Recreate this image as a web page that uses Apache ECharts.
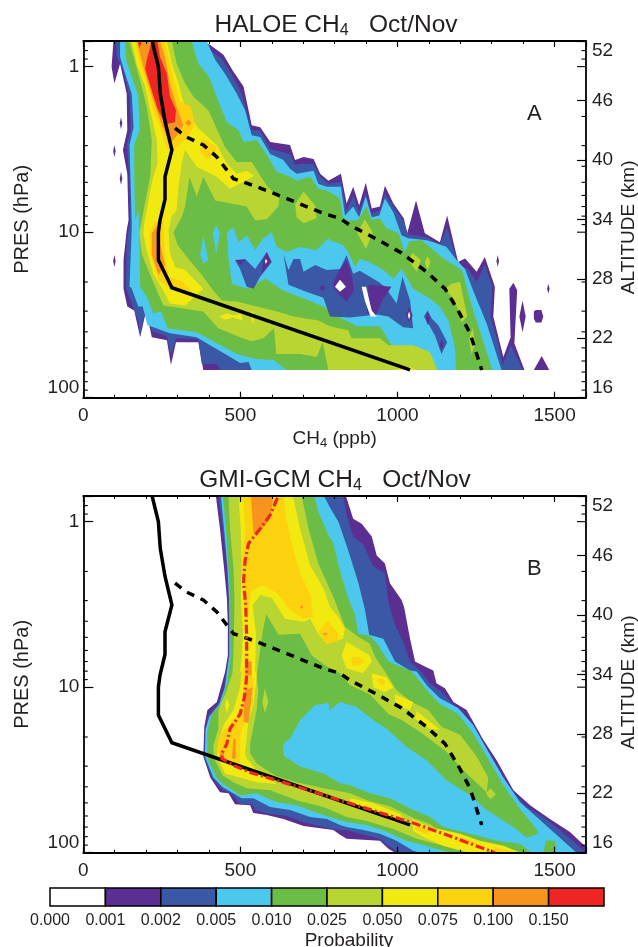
<!DOCTYPE html>
<html>
<head>
<meta charset="utf-8">
<style>html,body{margin:0;padding:0;background:#fff}#main{width:638px;height:947px}</style>
<script src="https://cdn.jsdelivr.net/npm/echarts@6/dist/echarts.min.js"></script>
</head>
<body>
<div id="main"></div>
<script>
// probability bands, low to high
const probLevels = ['0.000','0.001','0.002','0.005','0.010','0.025','0.050','0.075','0.100','0.150'];
const bandColors = ['#ffffff','#5b2e91','#3b58a7','#4cc7ee','#6cbd45','#b9d532','#f1e90f','#fcd20f','#f7941e','#ee2524'];

const xLabels = [0,500,1000,1500];
const pressLabels = [1,10,100];
const pressMinor = [0.8,0.9,2,3,4,5,6,7,8,9,20,30,40,50,60,70,80,90];
const altTicks = [16,22,28,34,40,46,52];

// contour outlines, [CH4 ppb, altitude km]
const haloe1 = [[96,52],[90,49.4],[99,47.7],[117,49.7],[138,46.7],[140,43],[126,41],[140,38.6],[144,33.9],[138,32.9],[128,29.9],[128,27],[140,25.2],[162,24.8],[181,22.1],[200,24.8],[218,22.1],[266,21.8],[279,19.3],[295,21.6],[366,21.6],[382,18.8],[1404,18.8],[1372,21.5],[1381,26.85],[1369,27.6],[1356,27],[1360,22.1],[1337,20.1],[1326,21.5],[1305,24.2],[1310,27.2],[1278,30.2],[1252,28.7],[1225,29.7],[1215,30.05],[1193,29.7],[1158,34.4],[1135,31.7],[1087,32.6],[1059,35.9],[1031,32.6],[1020,34.1],[987,35.6],[960,37.4],[944,35.3],[918,35.1],[899,37.7],[878,35.4],[859,37.3],[838,35.6],[820,38.6],[780,37.9],[754,38.6],[733,40.1],[701,40.3],[674,40],[658,41.5],[595,41.8],[563,43.3],[536,43.5],[510,47.4],[478,48.9],[446,50.6],[404,51.6],[382,52]];
const haloe1Spots = [
  [[120,44.3],[124,43.7],[120,43.1],[116,43.7]],
  [[99,41.5],[103,40.9],[99,40.3],[95,40.9]],
  [[120,38.8],[124,38.1],[120,37.5],[116,38.1]],
  [[99,30.4],[103,29.8],[99,29.2],[95,29.8]],
  [[1319,30.4],[1323,29.8],[1319,29.2],[1315,29.8]],
  [[1480,27.5],[1484,27],[1480,26.5],[1476,27]],
  [[1398,25.8],[1408,24.2],[1398,22.6],[1388,24.2]],
  [[1434,24.7],[1440,24.85],[1458,24.85],[1464,24.2],[1458,23.6],[1440,23.6],[1434,24]],
  [[1459,20.2],[1483,18.8],[1434,18.8]]
];
const haloe2 = [[103,52],[107,50.4],[126,49.1],[147,46.4],[151,43],[138,41.5],[146,38.6],[149,33.9],[144,32.9],[138,31.6],[136,27],[154,25.5],[175,23.8],[181,22.3],[200,25.3],[218,22.7],[266,22.2],[279,20.3],[295,22],[366,21.9],[377,19.4],[425,19.4],[435,18.8],[1398,18.8],[1361,21.3],[1335,19.3],[1321,21.5],[1296,24.2],[1302,27.2],[1278,29.4],[1252,27.7],[1225,29],[1193,29.4],[1158,33.2],[1135,31.4],[1093,32.2],[1034,32.5],[1018,33.9],[987,35.3],[960,36.6],[944,34.9],[918,34.6],[899,36.6],[878,34.8],[859,36.4],[838,34.9],[820,37.8],[780,37.6],[754,38.3],[733,39.6],[701,39.6],[674,39.5],[658,40.6],[595,41.1],[563,43],[536,43],[504,46.7],[473,48.6],[441,50.2],[404,51.1],[387,52]];
const haloe3 = [[117,52],[117,50.4],[133,48.7],[154,46.7],[160,43.3],[147,41.5],[154,33.9],[154,32.9],[147,27.2],[153,27.1],[175,25.2],[189,25.2],[204,23.3],[223,23.1],[276,22.5],[361,22.1],[414,21.1],[457,20.3],[499,19.5],[526,19.6],[536,18.8],[1331,18.8],[1284,23.5],[1241,26.8],[1215,29],[1188,29.9],[1156,31.2],[1124,31.6],[1093,31.9],[1034,32.1],[1013,32.4],[987,34.7],[960,36.1],[942,34.4],[918,34.2],[899,36.3],[878,34.2],[859,35.3],[833,34.4],[820,37.3],[775,37.3],[748,37.6],[733,38.9],[679,38.6],[658,39.1],[637,40],[595,40.6],[563,42.3],[536,42.5],[515,45],[488,46.7],[451,48.7],[420,50.1],[401,51.4],[393,52]];
const haloe4 = [[133,52],[136,50.1],[154,48.4],[175,46.5],[179,43],[162,41.5],[162,39],[165,33.9],[176,34.9],[179,31.6],[181,27.2],[202,26.2],[223,24.5],[247,24.7],[268,23],[361,22.6],[425,21.5],[489,20.4],[552,19.9],[605,19.8],[648,18.8],[1302,18.8],[1275,21.5],[1247,24.2],[1225,26.5],[1209,28.5],[1204,28.9],[1140,30.2],[1077,31.9],[1037,31.8],[1024,30.6],[1003,32.6],[965,33.1],[944,34.1],[918,33.9],[900,35.3],[875,33.9],[843,33.9],[827,34.2],[817,36.1],[775,36.9],[748,37.1],[722,38.3],[679,37.9],[658,38.3],[616,38.8],[584,40.5],[552,42],[510,41.8],[494,43],[457,43.8],[430,45.9],[404,48.1],[393,48.7],[366,49.7],[345,52]];
// low-probability valley inside the green band
const haloeValley3 = [
  [[382,32.4],[398,29.9],[382,29.5],[372,30.4]],
  [[423,33.4],[435,32.6],[423,30.5],[412,32.7]],
  [[457,32.7],[478,33.2],[494,31.7],[520,32.4],[547,30.9],[573,32.1],[600,32.7],[616,31.2],[648,30.7],[690,31.2],[743,30.9],[780,32.1],[785,31.9],[827,31.4],[843,30.7],[865,29.2],[880,30],[912,29.7],[955,28.9],[987,28],[1013,29],[1034,27.9],[1050,27],[1103,26],[1135,25.2],[1162,23.8],[1183,21.1],[1186,18.8],[1125,18.8],[1093,20.6],[1061,21.1],[981,21.3],[944,23.2],[870,23.2],[817,24.1],[764,25.2],[701,26],[637,26.8],[579,28],[520,27],[473,27.5],[462,30]]
];
const haloeValley2 = [
  [[483,29.9],[515,30],[547,29],[584,30.7],[600,29.7],[563,28.2],[542,27],[520,27.2],[499,29]],
  [[637,30.5],[653,28.9],[669,30],[690,30],[701,28.7],[738,29.4],[775,28.9],[817,29],[838,30.4],[859,28.5],[880,28.8],[939,27.7],[960,27.2],[997,25.5],[1016,28.2],[1040,25.8],[1050,23],[1018,23.1],[971,24.2],[934,24.4],[849,24.1],[785,24.2],[764,26.1],[701,26.8],[653,27.4]],
  [[1096,24.8],[1109,24],[1130,23.3],[1158,21.6],[1140,20.4],[1119,22.3],[1101,23.3],[1084,24.2]]
];
const haloeValley1 = [
  [[584,30.7],[597,29.7],[568,28.5],[573,29.9]],
  [[485,29.9],[515,29.9],[499,29.4]],
  [[761,27.4],[771,27.1],[761,26.8],[751,27.1]],
  [[793,27.4],[817,29],[838,29.9],[854,28.5],[861,26.8],[838,25.7],[812,26.5]],
  [[907,27.4],[981,27.2],[955,26],[931,24.3],[902,24.5],[907,26.2]],
  [[1037,25.2],[1048,24.3],[1037,23.6],[1027,24.3]],
  [[1096,24.7],[1104,24],[1096,23.3],[1090,24]],
  [[1140,21.9],[1146,21.3],[1140,20.8],[1134,21.3]]
];
const haloeValley0 = [
  [[581,30],[586,29.8],[581,29.5],[578,29.8]],
  [[817,27.9],[836,27.2],[817,26.7],[801,27.2]],
  [[886,27.2],[900,27.2],[918,24.8],[934,24.2],[914,24.2],[896,25.8]],
  [[1037,24.7],[1041,24.3],[1037,23.9],[1033,24.3]]
];
const haloe5 = [[146,52],[160,50.4],[181,48],[202,45.4],[218,42],[213,38.3],[200,36.3],[186,33.9],[178,32.6],[186,30.5],[218,28],[255,25.3],[382,24.7],[430,23],[499,22.1],[536,21.7],[573,22],[607,23],[614,20.4],[690,20.4],[743,20.1],[762,21.6],[780,18.8],[1127,18.8],[1103,20.6],[1050,21.3],[971,21.3],[944,22],[854,22],[843,22.8],[785,23.2],[748,23.8],[669,24.2],[605,24.8],[552,25.2],[489,25.7],[441,25.8],[414,26.8],[377,28.4],[335,30],[300,31.4],[287,32.7],[313,34.2],[324,35.3],[338,38.3],[361,36.3],[382,38.3],[420,35.9],[520,35.3],[547,33.9],[584,34],[621,35.3],[624,36.1],[584,37.4],[536,39.8],[488,39.8],[451,41.3],[398,45],[350,46.4],[324,47.7],[297,49.7],[282,52]];
const haloe5Spots = [
  [[896,34],[921,32.7],[900,31],[872,32.6]],
  [[1048,30.6],[1074,29.9],[1061,28.7],[1034,29.9]],
  [[1096,30.3],[1105,29.7],[1095,28.8],[1087,29.7]],
  [[1199,27.7],[1222,24.2],[1204,23.6],[1183,25.8],[1151,27],[1172,27.5]],
  [[1239,23.1],[1247,21.5],[1236,20.4],[1228,21.8]],
  [[701,36.8],[738,35.4],[743,34.1],[701,33.6],[679,34.2],[674,35.5]]
];
const haloe6 = [[154,52],[170,49.7],[197,47.4],[218,44.3],[234,42],[236,39.6],[223,38.3],[213,36.9],[202,34.9],[194,33.6],[191,32.6],[202,30.9],[223,28.5],[255,26.8],[276,25.5],[324,25.3],[382,27],[324,28.9],[292,29.2],[276,30.6],[271,32.9],[282,34.4],[297,34.9],[303,37.3],[313,39.6],[324,41],[361,39.3],[425,38.3],[467,37.1],[510,37.8],[544,38.4],[520,38.9],[488,38.6],[457,39.6],[425,41.5],[366,43.2],[324,45.2],[303,47.7],[282,49.7],[266,52]];
const haloe6Spots = [
  [[432,24.2],[457,24.5],[478,24.3],[504,24.5],[506,23.8],[478,24.1],[451,23.9]],
  [[539,24.8],[545,24.2],[539,23.4],[534,24.2]],
  [[987,18.8],[1040,19.1],[1059,18.8]]
];
const haloe7 = [
  [[163,52],[181,49.7],[204,47.4],[223,45],[244,43.3],[266,41.1],[287,41],[324,42],[356,43.5],[342,45.4],[308,45.9],[292,47.7],[276,49.7],[260,52]],
  [[377,42.2],[425,41.3],[420,40.5],[393,40.1],[372,40.8]],
  [[225,33.7],[211,32.6],[213,30.5],[239,27.9],[276,26.9],[345,26.8],[313,27.8],[271,28.2],[260,30.5],[255,33.9]]
];
const haloe8 = [
  [[170,52],[197,48.7],[223,46],[250,43.5],[276,41.7],[295,42.3],[319,43.5],[297,45.4],[276,47.7],[260,50.4],[244,52]],
  [[324,43.7],[335,44.1],[345,43.7],[335,43.4]],
  [[239,33.6],[218,32.6],[218,30.4],[239,28.4],[260,29.4],[244,31.6]]
];
const haloe9 = [
  [[173,52],[179,51.3],[186,52]],
  [[218,52],[202,50.1],[197,49.2],[213,47.5],[236,45.2],[260,43.6],[292,43.8],[295,45],[276,46.4],[266,48.7],[244,50.4],[236,52]]
];

const gmi1 = [[422,52],[435,48.7],[448,44.7],[457,41.7],[460,39],[460,35.9],[451,34.2],[425,31.2],[395,30.4],[385,28.7],[382,25.7],[404,23.6],[435,22.1],[462,22],[483,20.9],[531,20.8],[541,20],[584,19.8],[637,19.4],[701,18.7],[796,18.3],[817,17.8],[838,17.4],[944,17.2],[971,16.4],[992,16],[1599,16],[1599,16.6],[1549,18.1],[1485,19.4],[1422,20.8],[1369,22.3],[1316,25.3],[1273,27.4],[1220,30.4],[1178,31.2],[1151,32.6],[1124,33.1],[1114,34.4],[1087,34.8],[1056,35.3],[1040,37.6],[1021,40.8],[1013,41.5],[976,43.2],[960,45.2],[934,46],[918,47.9],[886,49.2],[859,49.7],[838,51.8],[835,52]];
const gmi2 = [[430,52],[444,48.7],[457,44.7],[462,41.7],[463,39],[463,35.9],[454,34.2],[448,32.7],[430,31],[398,29.9],[388,28.5],[384,25.7],[409,23.6],[441,22.4],[478,21.8],[499,20.9],[536,20.9],[547,20.3],[595,19.9],[648,19.7],[701,19.1],[764,18.6],[817,18.3],[838,18.3],[891,17.8],[944,17.4],[971,16.7],[997,16.2],[1008,16],[1599,16],[1575,16.7],[1517,18.3],[1464,19.6],[1411,20.6],[1358,22.5],[1305,25.2],[1262,27.4],[1209,30.2],[1178,30.9],[1146,32.1],[1103,33.1],[1077,34.2],[1040,35.3],[1018,37.3],[992,39],[971,41.3],[960,44.2],[923,44.9],[891,47.1],[859,47.9],[838,50.1],[827,52]];
const gmi3 = [[438,52],[448,48.7],[459,44.7],[464,41.7],[465,39],[465,35.9],[457,34.2],[451,32.7],[433,31],[401,29.7],[389,28.4],[387,25.7],[414,23.6],[444,22.6],[483,21.9],[504,21.5],[541,21.5],[595,20.6],[658,20.3],[722,19.6],[775,19.4],[817,18.8],[838,18.6],[891,18.3],[944,17.9],[997,17.2],[1050,16.2],[1071,16],[1570,16],[1506,17.8],[1443,19.6],[1390,21.1],[1337,23.6],[1284,26.5],[1241,28.9],[1193,30.6],[1135,31.6],[1093,32.9],[1061,34.3],[1040,34.4],[992,35.3],[955,37.6],[910,38],[896,40.6],[875,43.3],[838,47],[812,49.4],[786,50.8],[766,52]];
const gmi4 = [[444,52],[454,48.7],[462,44.7],[467,41.7],[468,39],[469,35.9],[462,34.2],[457,33.1],[438,31],[409,30],[395,28.2],[395,25.5],[425,23.5],[451,22.8],[499,21.8],[552,22],[616,21.1],[679,20.8],[754,19.9],[817,19.3],[838,19.1],[902,18.8],[960,18.2],[1029,17.2],[1103,16.6],[1167,16],[1506,16],[1501,17.2],[1475,17.2],[1448,17.8],[1445,18.3],[1390,20.4],[1337,22.8],[1284,25.7],[1241,28],[1193,30],[1135,31],[1093,32.4],[1056,33.9],[1040,34.4],[1008,34.8],[971,35.3],[939,36.9],[912,37.9],[875,38.1],[865,40],[843,41.7],[817,44.4],[796,47.2],[780,48.1],[748,50.4],[735,52]];
const gmiValley3 = [[637,27],[658,27.5],[690,29.4],[738,30.9],[780,31.1],[785,30.4],[817,31.2],[870,30.7],[923,29.4],[965,28.5],[1029,26.7],[1093,25.3],[1156,23.3],[1231,21.8],[1284,20.3],[1369,18.6],[1411,17.5],[1448,17.9],[1473,17.2],[1464,16],[1427,16],[1390,16.9],[1316,17.2],[1231,17.9],[1146,18.6],[1103,19.6],[1050,20.3],[976,21.5],[912,22],[849,22.8],[817,23],[764,24],[690,24.7],[637,25.8]];
const gmi5 = [[462,52],[467,48.7],[478,44.7],[481,41.7],[480,39],[478,35.9],[475,34.2],[457,32.4],[430,30.4],[430,28.5],[414,26.8],[416,25.5],[444,23.8],[478,23.1],[520,22.5],[595,22.3],[679,21.3],[764,20.6],[817,19.9],[838,19.6],[902,19.2],[987,18.4],[1061,17.4],[1146,16.7],[1220,16],[1395,16],[1316,16.7],[1231,17.2],[1146,17.9],[1103,18.9],[1050,19.5],[976,20.7],[912,21.2],[849,22],[817,22.2],[764,22.5],[679,23.1],[610,23.8],[552,25],[531,26],[531,27],[552,30.4],[557,32.4],[552,33.9],[571,38.3],[582,40.1],[621,38],[690,38.1],[727,35.9],[775,34.8],[817,34.1],[849,32.9],[912,32],[971,30],[1013,29.4],[1071,28.2],[1156,26.2],[1220,24],[1284,22.1],[1289,23.6],[1252,25.7],[1199,27.9],[1140,28.7],[1098,30.4],[1045,31.2],[997,32.4],[960,34.3],[928,35.8],[912,37.1],[875,37.8],[833,38.8],[812,40.5],[796,41.8],[748,45.2],[717,48.7],[695,52]];
const gmi5Spots = [
  [[1296,22.5],[1313,21.9],[1296,21.4],[1281,22]],
  [[578,32.6],[589,31.2],[578,30.1],[570,31.2]]
];
const gmi6 = [[494,52],[501,48.7],[504,44.7],[501,41.7],[508,38.3],[504,35.9],[499,34.2],[504,34.4],[499,32.7],[478,30.4],[448,29],[430,27.3],[425,25.7],[451,24],[499,23.6],[552,23.1],[616,22.9],[595,23.5],[547,24.5],[520,25.5],[515,26],[520,27.7],[526,29.4],[542,31],[550,33.1],[552,34.4],[547,34.2],[550,38],[539,41],[563,42],[600,41.7],[642,39.6],[701,39.3],[722,39.6],[748,38.1],[775,37.1],[801,37.4],[827,37.6],[833,38.6],[812,39.8],[785,40.8],[764,42.7],[722,45],[690,48.7],[667,52]];
const gmi6Spots = [
  [[838,37.3],[912,35.9],[918,35.3],[891,34.1],[838,34.6],[822,35.9]],
  [[918,34.1],[965,33.7],[987,32.7],[960,32.2],[923,32.7]],
  [[992,32],[1050,31.2],[1040,30.4],[992,30.9]],
  [[1061,30.3],[1135,28.4],[1103,28.5],[1056,29.5]],
  [[849,21.5],[923,21],[1008,19.9],[1034,18.8],[987,19.1],[891,20.4],[849,20.8]],
  [[1045,19.4],[1103,18.6],[1199,17.9],[1262,17.2],[1337,16.7],[1392,16],[1231,16],[1146,16.7],[1093,17.4],[1050,18.2]],
  [[457,31.6],[465,30.9],[457,30.1],[451,30.9]]
];
const gmi7 = [
  [[508,52],[515,48.7],[504,45],[507,42.3],[512,40.6],[526,40.6],[536,42.5],[568,43],[616,42.2],[658,40.5],[701,39.6],[730,39.8],[724,42],[690,44.2],[669,46.5],[648,49.4],[637,52]],
  [[515,36.3],[542,33.4],[539,31],[515,29.4],[499,27.7],[499,25],[478,25],[446,25],[425,26.3],[435,27.9],[467,29],[499,30.2],[508,32.1],[510,34.4]],
  [[748,38.3],[777,39.4],[812,38.1],[807,37.3],[775,37.1]],
  [[855,35.7],[875,35.8],[895,35.3],[875,34.9],[855,34.9]],
  [[935,33.4],[950,33.6],[965,33.2],[950,32.9]],
  [[1056,18.9],[1103,18.2],[1098,17.8],[1056,18.3]],
  [[1188,17.7],[1252,17],[1236,16.7],[1188,17.2]],
  [[1305,16.6],[1380,16],[1310,16]]
];
const gmi8 = [
  [[533,52],[542,48.2],[568,48.6],[595,49.7],[605,52]],
  [[515,32.4],[539,32.7],[526,29.1],[510,29.2],[512,31]],
  [[478,27.5],[485,27.5],[485,25.5],[473,25.5]],
  [[436,26.3],[448,26],[448,25.2],[436,25.2]],
  [[515,35.3],[536,35.3],[536,33.9],[517,33.9]],
  [[695,41],[700,40.8],[695,40.6],[690,40.8]],
  [[770,38.2],[778,38.1],[770,37.9],[762,38.1]]
];

// profile lines, [CH4 ppb, altitude km]
const solidProfile = [[219,52],[239,49.4],[245,46.7],[260,43.9],[282,41],[260,38.3],[260,36],[244,33.9],[239,32.7],[239,29.9],[282,27.1],[1040,18.8]];
const dashedProfile = [[292,43.2],[329,42.3],[382,41.5],[425,40.3],[478,38.1],[552,37.3],[648,36.1],[764,34.6],[817,34.1],[849,33.4],[934,32],[1013,30.6],[1093,28.7],[1151,27],[1193,24.8],[1231,22.5],[1268,18.8]];
const gmiProfile = [[618,51.8],[595,50.1],[568,48.9],[526,47.2],[515,45.5],[510,43.3],[517,41],[520,37.6],[520,33.9],[518,33.1],[512,31.6],[499,30],[467,28.5],[457,27],[441,26],[441,25.5],[478,24.8],[531,24.1],[637,23.1],[817,21.3],[1040,19.1],[1156,17.8],[1310,16]];

function layer(band, rings) { return rings.map(r => [band, r]); }
const haloeLayers = [].concat(
  layer(1,[haloe1]), layer(1,haloe1Spots), layer(2,[haloe2]), layer(3,[haloe3]), layer(4,[haloe4]),
  layer(3,haloeValley3), layer(2,haloeValley2), layer(1,haloeValley1), layer(0,haloeValley0),
  layer(5,[haloe5]), layer(5,haloe5Spots), layer(6,[haloe6]), layer(6,haloe6Spots),
  layer(7,haloe7), layer(8,haloe8), layer(9,haloe9)
);
const gmiLayers = [].concat(
  layer(1,[gmi1]), layer(2,[gmi2]), layer(3,[gmi3]), layer(4,[gmi4]), layer(3,[gmiValley3]),
  layer(5,[gmi5]), layer(5,gmi5Spots), layer(6,[gmi6]), layer(6,gmi6Spots),
  layer(7,gmi7), layer(8,gmi8)
);

const font = 'Liberation Sans';
const ink = '#231f20';
const axisLine = { show: true, onZero: false, lineStyle: { color: '#000', width: 1.8 } };

function xAxes(gridIndex, name) {
  return [{
    type: 'value', gridIndex, position: 'bottom', min: 0, max: 1600, interval: 500, z: 4,
    axisLine, splitLine: { show: false },
    axisTick: { inside: true, length: 6, lineStyle: { color: '#000', width: 1.2 } },
    minorTick: { show: true, splitNumber: 5, length: 3, lineStyle: { color: '#000', width: 1 } },
    axisLabel: { show: true, margin: 9, color: ink, fontFamily: font, fontSize: 19, showMaxLabel: false,
      formatter: v => xLabels.indexOf(v) >= 0 ? String(v) : '' },
    name, nameLocation: 'middle', nameGap: 31,
    nameTextStyle: { color: ink, fontFamily: font, fontSize: 19, rich: {
      b: { fontFamily: font, fontSize: 19, color: ink },
      s: { fontFamily: font, fontSize: 13, color: ink, padding: [8, 0, 0, 0] } } }
  }, {
    type: 'value', gridIndex, position: 'top', min: 0, max: 1600, interval: 500, z: 4,
    axisLine, splitLine: { show: false }, axisLabel: { show: false },
    axisTick: { inside: true, length: 6, lineStyle: { color: '#000', width: 1.2 } },
    minorTick: { show: true, splitNumber: 5, length: 3, lineStyle: { color: '#000', width: 1 } }
  }];
}
function yAxes(gridIndex) {
  return [{
    type: 'log', logBase: 10, gridIndex, position: 'left', min: 0.7, max: 100, inverse: true, z: 4,
    axisLine, splitLine: { show: false }, minorTick: { show: false }, minorSplitLine: { show: false },
    axisTick: { inside: true, length: 10, lineStyle: { color: '#000', width: 1.2 } },
    axisLabel: { margin: 4, color: ink, fontFamily: font, fontSize: 19, verticalAlignMaxLabel: 'bottom',
      formatter: v => pressLabels.indexOf(Math.round(v)) >= 0 && v >= 1 ? String(Math.round(v)) : '' },
    name: 'PRES (hPa)', nameLocation: 'middle', nameGap: 51, nameRotate: 90,
    nameTextStyle: { color: ink, fontFamily: font, fontSize: 20 }
  }, {
    type: 'value', gridIndex, position: 'right', min: 16, max: 52, z: 4,
    axisLine, splitLine: { show: false },
    axisTick: { inside: true, length: 9, customValues: altTicks, lineStyle: { color: '#000', width: 1.2 } },
    axisLabel: { margin: 6, color: ink, fontFamily: font, fontSize: 19, customValues: altTicks,
      verticalAlignMinLabel: 'bottom', verticalAlignMaxLabel: 'top' },
    name: 'ALTITUDE (km)', nameLocation: 'middle', nameGap: 33, nameRotate: 90, nameMoveOverlap: false,
    nameTextStyle: { color: ink, fontFamily: font, fontSize: 19, padding: [0, 16, 0, 0] }
  }];
}

function bandSeries(layers, xAxisIndex, yAxisIndex) {
  return {
    type: 'custom', xAxisIndex, yAxisIndex, z: 2, clip: true, silent: true,
    data: layers.map((l, i) => [i]),
    renderItem: (params, api) => {
      const l = layers[api.value(0)];
      return { type: 'polygon', shape: { points: l[1].map(p => api.coord(p)) }, style: { fill: bandColors[l[0]] } };
    }
  };
}
// pressure ticks the log axis doesn't draw
function pressTickSeries(xAxisIndex, yAxisIndex) {
  const ticks = pressMinor.map(p => [p, 4.5, 1]).concat(pressMinor.map(p => [p, 4.5, -1]), pressLabels.map(p => [p, 9, -1]));
  return {
    type: 'custom', xAxisIndex, yAxisIndex, z: 4, silent: true, clip: false,
    data: ticks.map((t, i) => [i]),
    renderItem: (params, api) => {
      const t = ticks[api.value(0)];
      const c = api.coord([t[2] > 0 ? 0 : 1600, t[0]]);
      return { type: 'line', shape: { x1: c[0], y1: c[1], x2: c[0] + t[1] * t[2], y2: c[1] }, style: { stroke: '#000', lineWidth: 1.1 } };
    }
  };
}
function profile(data, xAxisIndex, yAxisIndex, color, width, type) {
  return { type: 'line', xAxisIndex, yAxisIndex, data, z: 3, symbol: 'none', silent: true, clip: true,
    lineStyle: { color, width, type, cap: 'butt', join: 'miter' } };
}

const titleStyle = { color: ink, fontFamily: font, fontSize: 24.5, fontWeight: 'normal', rich: {
  s: { fontFamily: font, fontSize: 16, color: ink, padding: [11, 0, 0, 0] } } };
const option = {
  animation: false,
  backgroundColor: '#fff',
  title: [
    { text: 'HALOE CH{s|4}   Oct/Nov', left: 331, top: 7, textAlign: 'center', textStyle: titleStyle },
    { text: 'GMI-GCM CH{s|4}   Oct/Nov', left: 330, top: 462, textAlign: 'center', textStyle: titleStyle },
    { text: 'A', left: 522, top: 98, textStyle: { color: ink, fontFamily: font, fontSize: 22, fontWeight: 'normal' } },
    { text: 'B', left: 522, top: 553, textStyle: { color: ink, fontFamily: font, fontSize: 22, fontWeight: 'normal' } },
    { text: 'Probability', left: 344, top: 926, textAlign: 'center', textStyle: { color: ink, fontFamily: font, fontSize: 19, fontWeight: 'normal' } }
  ],
  grid: [
    { left: 83.3, top: 41, width: 502.7, height: 356.7, outerBoundsMode: 'none' },
    { left: 83.3, top: 496, width: 502.7, height: 356.7, outerBoundsMode: 'none' },
    { left: 50, top: 888, width: 554, height: 18, outerBoundsMode: 'none' }
  ],
  xAxis: [].concat(
    xAxes(0, '{b|CH}{s|4}{b| (ppb)}'),
    xAxes(1, ''),
    [{ type: 'value', gridIndex: 2, min: 0, max: 10, interval: 1, z: 4,
       axisLine: { show: false }, axisTick: { show: false }, splitLine: { show: false },
       axisLabel: { margin: 7, color: ink, fontFamily: font, fontSize: 16, showMaxLabel: false,
         formatter: v => probLevels[v] || '' } }]
  ),
  yAxis: [].concat(
    yAxes(0),
    yAxes(1),
    [{ type: 'value', gridIndex: 2, min: 0, max: 1, show: false }]
  ),
  series: [
    bandSeries(haloeLayers, 0, 1),
    pressTickSeries(0, 0),
    profile(solidProfile, 0, 1, '#000', 3.5, 'solid'),
    profile(dashedProfile, 0, 1, '#000', 3.5, [8, 7]),
    bandSeries(gmiLayers, 2, 3),
    pressTickSeries(2, 2),
    profile(solidProfile, 2, 3, '#000', 3.5, 'solid'),
    profile(dashedProfile, 2, 3, '#000', 3.5, [8, 7]),
    profile(gmiProfile, 2, 3, '#ee2524', 3.2, [9, 3, 2, 3]),
    {
      type: 'custom', xAxisIndex: 4, yAxisIndex: 4, z: 2, silent: true,
      data: probLevels.map((l, i) => [i]),
      renderItem: (params, api) => {
        const i = api.value(0);
        const a = api.coord([i, 1]);
        const b = api.coord([i + 1, 0]);
        return { type: 'rect', shape: { x: a[0], y: a[1], width: b[0] - a[0], height: b[1] - a[1] },
          style: { fill: bandColors[i], stroke: '#000', lineWidth: 1.5 } };
      }
    }
  ]
};

const chart = echarts.init(document.getElementById('main'), null, { renderer: 'canvas' });
chart.setOption(option);
</script>
</body>
</html>
